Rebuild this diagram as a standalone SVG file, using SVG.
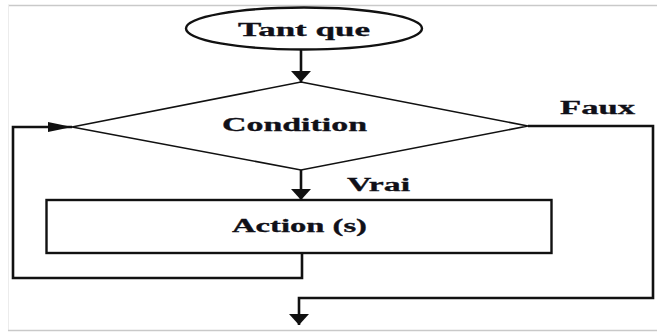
<svg xmlns="http://www.w3.org/2000/svg" width="657" height="334" viewBox="0 0 657 334">
  <style>
    .shape { fill: #ffffff; stroke: #111111; }
    .wire { fill: none; stroke: #111111; stroke-width: 2.6; }
    .label { font-family: "Liberation Serif", "Times New Roman", serif; font-weight: bold; font-size: 18px; fill: #101018; stroke: #101018; stroke-width: 0.3; }
    .frame { stroke: #c9c9c9; stroke-width: 1.5; }
  </style>
  <defs>
    <marker id="headDown" markerUnits="userSpaceOnUse" viewBox="0 -10 11 20" refX="11" refY="0" markerWidth="11" markerHeight="20" orient="auto">
      <path d="M0,-10 L11,0 L0,10 Z" fill="#111111"/>
    </marker>
    <marker id="headSide" markerUnits="userSpaceOnUse" viewBox="0 -5 24 10" refX="24" refY="0" markerWidth="24" markerHeight="10" orient="auto">
      <path d="M0,-5 L24,0 L0,5 Z" fill="#111111"/>
    </marker>
  </defs>

  <!-- page frame -->
  <g id="frame">
    <line class="frame" x1="8" y1="5.5" x2="657" y2="5.5"/>
    <line x1="8.5" y1="5" x2="8.5" y2="330" stroke="#ececec" stroke-width="1"/>
    <line class="frame" x1="8" y1="330.5" x2="657" y2="330.5"/>
  </g>

  <!-- connectors -->
  <g id="connectors">
    <path class="wire" d="M301,49.5 V82" marker-end="url(#headDown)"/>
    <path class="wire" d="M301,170 V200" marker-end="url(#headDown)"/>
    <path class="wire" d="M302,253 V278 H13 V127 H72" marker-end="url(#headSide)"/>
    <path class="wire" d="M528,126 H653 V298 H299 V325" marker-end="url(#headDown)"/>
  </g>

  <!-- start node -->
  <g id="node-tantque">
    <ellipse class="shape" cx="304" cy="28.5" rx="118" ry="21" stroke-width="2.4"/>
    <text class="label" x="238" y="35.5" textLength="132" lengthAdjust="spacingAndGlyphs">Tant que</text>
  </g>

  <!-- decision -->
  <g id="node-condition">
    <polygon class="shape" points="301,82 528,126 301,170 72,127" stroke-width="1.6"/>
    <text class="label" x="222" y="131" textLength="145" lengthAdjust="spacingAndGlyphs">Condition</text>
  </g>

  <!-- loop body -->
  <g id="node-action">
    <rect class="shape" x="46.5" y="200" width="505" height="53" stroke-width="2.4"/>
    <text class="label" x="232" y="232" textLength="135" lengthAdjust="spacingAndGlyphs">Action (s)</text>
  </g>

  <!-- branch labels -->
  <g id="labels">
    <text class="label" x="347" y="191" textLength="63" lengthAdjust="spacingAndGlyphs">Vrai</text>
    <text class="label" x="560" y="114" textLength="75" lengthAdjust="spacingAndGlyphs">Faux</text>
  </g>
</svg>
